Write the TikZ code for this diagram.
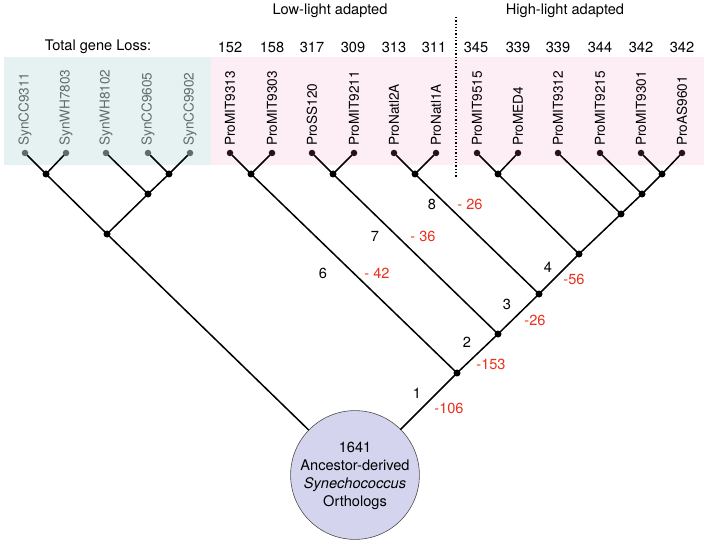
\documentclass[tikz,border=0pt]{standalone}
\usepackage{fontspec}
\setmainfont{TeX Gyre Heros}
\usepackage{tikz}
\usetikzlibrary{arrows,shapes,calc,positioning}
\definecolor{synbg}{RGB}{230,242,242}
\definecolor{probg}{RGB}{253,238,246}
\definecolor{syngrey}{RGB}{94,108,108}
\definecolor{prodot}{RGB}{40,16,30}
\definecolor{rootfill}{RGB}{212,212,238}
\definecolor{lossred}{RGB}{232,48,28}
\tikzstyle{edge}  =[line width=1.5pt, line cap=round]
\tikzstyle{vertex}=[circle, fill=black, minimum size=7pt,
                    inner sep=0pt, outer sep=0pt]
\tikzstyle{synleaf}=[circle, fill=syngrey, minimum size=6.5pt,
                    inner sep=0pt, outer sep=0pt]
\tikzstyle{proleaf}=[circle, fill=prodot, minimum size=6.5pt,
                    inner sep=0pt, outer sep=0pt]
\tikzstyle{leaflabel}=[rotate=90, anchor=west, inner sep=0pt,
                    font=\fontsize{13.6}{16}\selectfont]
\tikzstyle{count}=[inner sep=0pt]
\tikzstyle{branch}=[inner sep=0pt]
\tikzstyle{loss}=[inner sep=0pt, text=lossred]

\begin{document}
\begin{tikzpicture}[x=1pt, y=-1pt,
            every node/.style={font=\fontsize{14.6}{18}\selectfont}]
                \useasboundingbox (0,0) rectangle (704,540);
                \fill[synbg] (4,57) rectangle (211,165);
                \fill[probg] (211,57) rectangle (704,165);

                % headers
                \node (low) at (330,11) {Low-light adapted};
                \node (high) at (565,11) {High-light adapted};
                \coordinate (dtop) at (456,17);
                \coordinate (dbot) at (456,178);
                \draw[dotted, line width=1.3pt] (dtop) -- (dbot);
                \node[count] (tgl) at (98,47) {Total gene Loss:};

                % leaves
                \node[synleaf] (s1) at (25,153) {};
                \node[synleaf] (s2) at (66,153) {};
                \node[synleaf] (s3) at (106,153) {};
                \node[synleaf] (s4) at (148,153) {};
                \node[synleaf] (s5) at (190,153) {};
                \node[proleaf] (p1) at (230,153) {};
                \node[proleaf] (p2) at (272,153) {};
                \node[proleaf] (p3) at (312,153) {};
                \node[proleaf] (p4) at (354,153) {};
                \node[proleaf] (p5) at (394,153) {};
                \node[proleaf] (p6) at (436,153) {};
                \node[proleaf] (p7) at (477,153) {};
                \node[proleaf] (p8) at (518,153) {};
                \node[proleaf] (p9) at (558,153) {};
                \node[proleaf] (p10) at (600,153) {};
                \node[proleaf] (p11) at (641,153) {};
                \node[proleaf] (p12) at (682,153) {};

                \node[leaflabel, text=syngrey] (ls1) at ($(s1)+(0,-7)$) {SynCC9311};
                \node[leaflabel, text=syngrey] (ls2) at ($(s2)+(0,-7)$) {SynWH7803};
                \node[leaflabel, text=syngrey] (ls3) at ($(s3)+(0,-7)$) {SynWH8102};
                \node[leaflabel, text=syngrey] (ls4) at ($(s4)+(0,-7)$) {SynCC9605};
                \node[leaflabel, text=syngrey] (ls5) at ($(s5)+(0,-7)$) {SynCC9902};
                \node[leaflabel] (lp1) at ($(p1)+(0,-7)$) {ProMIT9313};
                \node[leaflabel] (lp2) at ($(p2)+(0,-7)$) {ProMIT9303};
                \node[leaflabel] (lp3) at ($(p3)+(0,-7)$) {ProSS120};
                \node[leaflabel] (lp4) at ($(p4)+(0,-7)$) {ProMIT9211};
                \node[leaflabel] (lp5) at ($(p5)+(0,-7)$) {ProNatl2A};
                \node[leaflabel] (lp6) at ($(p6)+(0,-7)$) {ProNatl1A};
                \node[leaflabel] (lp7) at ($(p7)+(0,-7)$) {ProMIT9515};
                \node[leaflabel] (lp8) at ($(p8)+(0,-7)$) {ProMED4};
                \node[leaflabel] (lp9) at ($(p9)+(0,-7)$) {ProMIT9312};
                \node[leaflabel] (lp10) at ($(p10)+(0,-7)$) {ProMIT9215};
                \node[leaflabel] (lp11) at ($(p11)+(0,-7)$) {ProMIT9301};
                \node[leaflabel] (lp12) at ($(p12)+(0,-7)$) {ProAS9601};

                % gene loss per genome
                \node[count] (c1) at (230,47) {152};
                \node[count] (c2) at (272,47) {158};
                \node[count] (c3) at (312,47) {317};
                \node[count] (c4) at (353,47) {309};
                \node[count] (c5) at (394,47) {313};
                \node[count] (c6) at (434,47) {311};
                \node[count] (c7) at (476,47) {345};
                \node[count] (c8) at (518,47) {339};
                \node[count] (c9) at (558,47) {339};
                \node[count] (c10) at (600,47) {344};
                \node[count] (c11) at (641,47) {342};
                \node[count] (c12) at (682,47) {342};

                % internal nodes
                \node[vertex] (a1) at (46,174) {};
                \node[vertex] (a2) at (169,174) {};
                \node[vertex] (a3) at (148,194) {};
                \node[vertex] (sr) at (107,234) {};
                \node[vertex] (b1) at (251,174) {};
                \node[vertex] (b2) at (333,174) {};
                \node[vertex] (b3) at (415,174) {};
                \node[vertex] (b4) at (498,174) {};
                \node[vertex] (b5) at (662,174) {};
                \node[vertex] (b6) at (642,194) {};
                \node[vertex] (b7) at (621,214) {};
                \node[vertex] (b8) at (579,254) {};
                \node[vertex] (b9) at (539,294) {};
                \node[vertex] (b10) at (498,334) {};
                \node[vertex] (b11) at (457,373) {};
                \node[circle, draw=black!70, line width=0.6pt, fill=rootfill,
                      minimum size=124pt, inner sep=0pt, align=center] (root) at (355,475)
                      {\\[-6pt]1641\\Ancestor-derived\\\textit{Synechococcus}\\Orthologs};

                \draw[edge] (s1) to (a1);
                \draw[edge] (s2) to (a1);
                \draw[edge] (s4) to (a2);
                \draw[edge] (s5) to (a2);
                \draw[edge] (s3) to (a3);
                \draw[edge] (a2) to (a3);
                \draw[edge] (a1) to (sr);
                \draw[edge] (a3) to (sr);
                \draw[edge] (sr) to (root);

                \draw[edge] (p1) to (b1);
                \draw[edge] (p2) to (b1);
                \draw[edge] (p3) to (b2);
                \draw[edge] (p4) to (b2);
                \draw[edge] (p5) to (b3);
                \draw[edge] (p6) to (b3);
                \draw[edge] (p7) to (b4);
                \draw[edge] (p8) to (b4);
                \draw[edge] (p11) to (b5);
                \draw[edge] (p12) to (b5);
                \draw[edge] (p10) to (b6);
                \draw[edge] (b5) to (b6);
                \draw[edge] (p9) to (b7);
                \draw[edge] (b6) to (b7);
                \draw[edge] (b4) to (b8);
                \draw[edge] (b7) to (b8);
                \draw[edge] (b3) to (b9);
                \draw[edge] (b8) to (b9);
                \draw[edge] (b2) to (b10);
                \draw[edge] (b9) to (b10);
                \draw[edge] (b1) to (b11);
                \draw[edge] (b10) to (b11);
                \draw[edge] (b11) to (root);

                % branch numbers and losses
                \node[branch] (n1) at (417,393) {1};
                \node[loss] (g1) at (449,408) {-106};
                \node[branch] (n2) at (467,342) {2};
                \node[loss] (g2) at (491,364) {-153};
                \node[branch] (n3) at (507,304) {3};
                \node[loss] (g3) at (535,320) {-26};
                \node[branch] (n4) at (548,267) {4};
                \node[loss] (g4) at (574,279) {-56};
                \node[branch] (n6) at (323,273) {6};
                \node[loss] (g6) at (377,273) {- 42};
                \node[branch] (n7) at (375,236) {7};
                \node[loss] (g7) at (423,236) {- 36};
                \node[branch] (n8) at (432,204) {8};
                \node[loss] (g8) at (470,204) {- 26};

        \end{tikzpicture}
\end{document}
